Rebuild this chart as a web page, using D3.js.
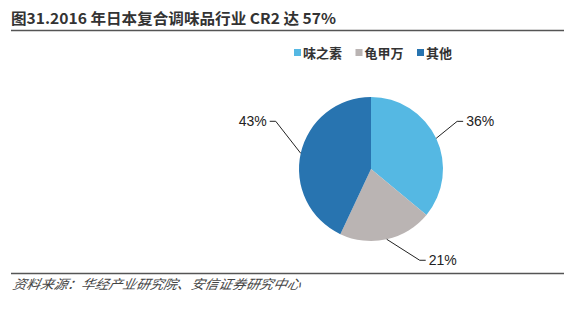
<!DOCTYPE html>
<html>
<head>
<meta charset="utf-8">
<script src="https://cdn.jsdelivr.net/npm/d3@7"></script>
<style>
  body { margin: 0; background: #fff; }
  svg { display: block; }
</style>
</head>
<body>
<div id="chart"></div>
<script>
var WIDTH = 564, HEIGHT = 310;

var titleText = "图31.2016 年日本复合调味品行业 CR2 达 57%";
var sourceText = "资料来源：华经产业研究院、安信证券研究中心";
var categories = ["味之素", "龟甲万", "其他"];
var values = [36, 21, 43];
var colors = ["#55b8e3", "#bab4b3", "#2874b0"];

// elbow point for each label, relative to the slice edge point
var elbows = [[21, -17], [33, 21], [-25, -32]];

var svg = d3.select("#chart").append("svg")
    .attr("width", WIDTH)
    .attr("height", HEIGHT);

// title
svg.append("text")
    .attr("x", 11)
    .attr("y", 24)
    .attr("font-family", "'Noto Sans CJK SC', sans-serif")
    .attr("font-weight", "bold")
    .attr("font-size", 15)
    .attr("fill", "#333")
    .attr("textLength", 325)
    .attr("lengthAdjust", "spacingAndGlyphs")
    .text(titleText);

svg.append("line")
    .attr("x1", 11).attr("x2", WIDTH)
    .attr("y1", 30.5).attr("y2", 30.5)
    .attr("stroke", "#555").attr("stroke-width", 1.5);

svg.append("line")
    .attr("x1", 11).attr("x2", WIDTH)
    .attr("y1", 273.5).attr("y2", 273.5)
    .attr("stroke", "#555").attr("stroke-width", 1.5);

svg.append("text")
    .attr("x", 12)
    .attr("y", 289)
    .attr("font-family", "'Noto Sans CJK SC', sans-serif")
    .attr("font-style", "italic")
    .attr("font-size", 13)
    .attr("fill", "#444")
    .attr("transform", "translate(12,289) skewX(-12) translate(-12,-289)")
    .attr("textLength", 288)
    .attr("lengthAdjust", "spacingAndGlyphs")
    .text(sourceText);

// legend
var legendX = d3.scalePoint().domain(categories).range([294, 417]);
var legend = svg.append("g").selectAll("g")
    .data(categories)
    .join("g")
    .attr("transform", function(d) { return "translate(" + legendX(d) + ",49)"; });

legend.append("rect")
    .attr("width", 7).attr("height", 7)
    .attr("fill", function(d, i) { return colors[i]; });

legend.append("text")
    .attr("x", 9)
    .attr("y", 8.5)
    .attr("font-family", "'Noto Sans CJK SC', sans-serif")
    .attr("font-weight", "bold")
    .attr("font-size", 13)
    .attr("fill", "#333")
    .text(function(d) { return d; });

// pie
var cx = 371, cy = 169, radius = 72;
var pie = d3.pie().sort(null).value(function(d) { return d; });
var arcs = pie(values);
var arc = d3.arc().innerRadius(0).outerRadius(radius);

var g = svg.append("g").attr("transform", "translate(" + cx + "," + cy + ")");

g.selectAll("path")
    .data(arcs)
    .join("path")
    .attr("d", arc)
    .attr("fill", function(d, i) { return colors[i]; });

var edge = d3.arc().innerRadius(radius).outerRadius(radius);

arcs.forEach(function(d, i) {
    var p = edge.centroid(d);
    var e = [p[0] + elbows[i][0], p[1] + elbows[i][1]];
    var right = e[0] > 0;
    var end = [e[0] + (right ? 6 : -6), e[1]];
    g.append("polyline")
        .attr("points", [p, e, end].map(function(q) { return q.join(","); }).join(" "))
        .attr("fill", "none")
        .attr("stroke", "#222")
        .attr("stroke-width", 1);
    g.append("text")
        .attr("x", end[0] + (right ? 3 : -3))
        .attr("y", end[1])
        .attr("dy", "0.35em")
        .attr("text-anchor", right ? "start" : "end")
        .attr("font-family", "Arial, 'Liberation Sans', sans-serif")
        .attr("font-size", 14)
        .attr("fill", "#222")
        .text(d.data + "%");
});
</script>
</body>
</html>
